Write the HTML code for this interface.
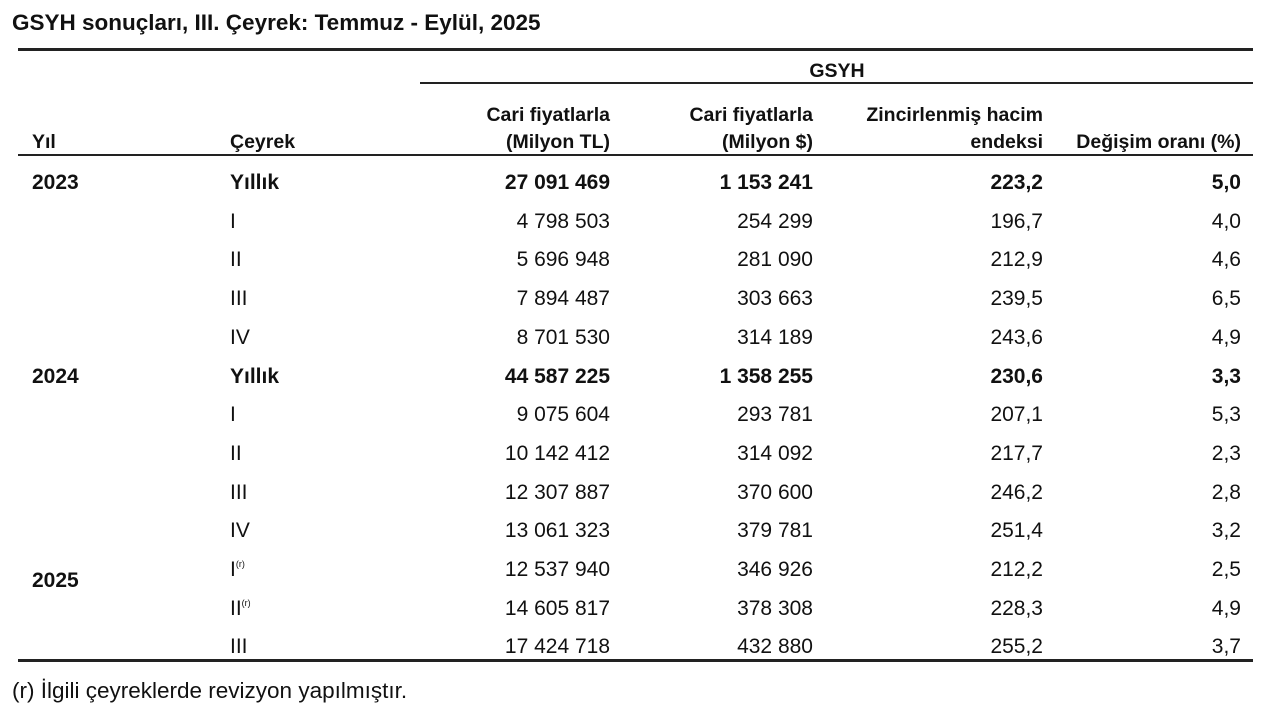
<!DOCTYPE html>
<html><head><meta charset="utf-8"><style>
body{margin:0;width:1280px;height:708px;background:#fff;position:relative;overflow:hidden;color:#111;font-family:"Liberation Sans",sans-serif;}
.t{position:absolute;font-size:21px;line-height:22px;white-space:nowrap;}
.h{font-weight:bold;font-size:19.5px;}
.r{text-align:right;}
.b{font-weight:bold;}
.ln{position:absolute;background:#222;}
sup{font-size:9px;line-height:0;vertical-align:9px;}
</style></head><body>
<div class="t b" style="left:12px;top:10px;font-size:22.5px;line-height:26px;">GSYH sonuçları, III. Çeyrek: Temmuz - Eylül, 2025</div>
<div class="ln" style="left:18px;top:48px;width:1235px;height:3px"></div>
<div class="t h" style="left:837px;top:60px;transform:translateX(-50%)">GSYH</div>
<div class="ln" style="left:420px;top:82px;width:833px;height:2px"></div>
<div class="t r h" style="right:670px;top:104px">Cari fiyatlarla</div>
<div class="t r h" style="right:670px;top:131px">(Milyon TL)</div>
<div class="t r h" style="right:467px;top:104px">Cari fiyatlarla</div>
<div class="t r h" style="right:467px;top:131px">(Milyon $)</div>
<div class="t r h" style="right:237px;top:104px">Zincirlenmiş hacim</div>
<div class="t r h" style="right:237px;top:131px">endeksi</div>
<div class="t r h" style="right:39px;top:131px">Değişim oranı (%)</div>
<div class="t h" style="left:32px;top:131px">Yıl</div>
<div class="t h" style="left:230px;top:131px">Çeyrek</div>
<div class="ln" style="left:18px;top:154px;width:1235px;height:2px"></div>
<div id="rows"></div>
<div class="ln" style="left:18px;top:659px;width:1235px;height:3px"></div>
<div class="t" style="left:12px;top:678px;font-size:22.5px;line-height:26px;">(r) İlgili çeyreklerde revizyon yapılmıştır.</div>
<script>
var d=[["2023","Yıllık","27 091 469","1 153 241","223,2","5,0",1],
["","I","4 798 503","254 299","196,7","4,0"],
["","II","5 696 948","281 090","212,9","4,6"],
["","III","7 894 487","303 663","239,5","6,5"],
["","IV","8 701 530","314 189","243,6","4,9"],
["2024","Yıllık","44 587 225","1 358 255","230,6","3,3",1],
["","I","9 075 604","293 781","207,1","5,3"],
["","II","10 142 412","314 092","217,7","2,3"],
["","III","12 307 887","370 600","246,2","2,8"],
["","IV","13 061 323","379 781","251,4","3,2"],
["","I<sup>(r)</sup>","12 537 940","346 926","212,2","2,5"],
["","II<sup>(r)</sup>","14 605 817","378 308","228,3","4,9"],
["","III","17 424 718","432 880","255,2","3,7"]];
var h="";
d.forEach(function(r,i){var y=172+i*38.7;var b=r[6]?" b":"";
h+='<div class="t b" style="left:32px;top:'+y+'px">'+r[0]+'</div>';
h+='<div class="t'+b+'" style="left:230px;top:'+y+'px">'+r[1]+'</div>';
h+='<div class="t r'+b+'" style="right:670px;top:'+y+'px">'+r[2]+'</div>';
h+='<div class="t r'+b+'" style="right:467px;top:'+y+'px">'+r[3]+'</div>';
h+='<div class="t r'+b+'" style="right:237px;top:'+y+'px">'+r[4]+'</div>';
h+='<div class="t r'+b+'" style="right:39px;top:'+y+'px">'+r[5]+'</div>';});
h+='<div class="t b" style="left:32px;top:570px">2025</div>';
document.getElementById("rows").innerHTML=h;
</script>
</body></html>
